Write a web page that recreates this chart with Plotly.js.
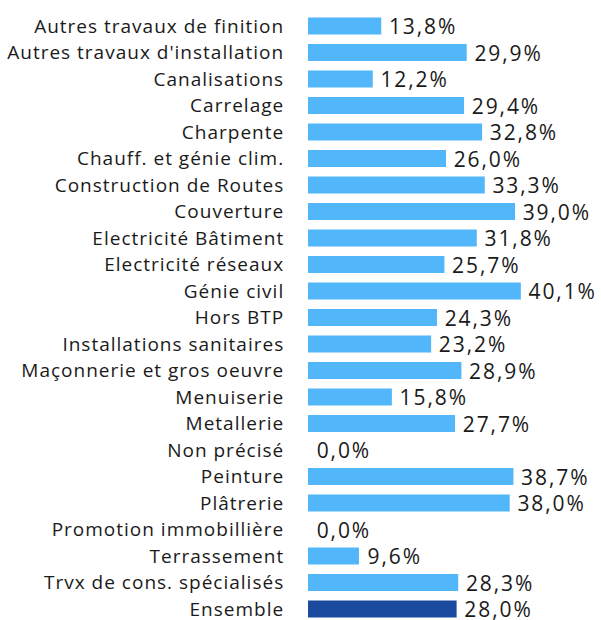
<!DOCTYPE html>
<html><head><meta charset="utf-8">
<script src="https://cdn.plot.ly/plotly-3.0.1.min.js"></script>
<style>
body{margin:0;padding:0;background:#fff}#chart{width:601px;height:620px}
#chart .ytick text{letter-spacing:1px}
#chart text.bartext{letter-spacing:1.9px}
</style>
</head><body><div id="chart"></div>
<script>
const categories = ["Autres travaux de finition","Autres travaux d'installation","Canalisations","Carrelage","Charpente","Chauff. et génie clim.","Construction de Routes","Couverture","Electricité Bâtiment","Electricité réseaux","Génie civil","Hors BTP","Installations sanitaires","Maçonnerie et gros oeuvre","Menuiserie","Metallerie","Non précisé","Peinture","Plâtrerie","Promotion immobillière","Terrassement","Trvx de cons. spécialisés","Ensemble"];
const values = [13.8,29.9,12.2,29.4,32.8,26.0,33.3,39.0,31.8,25.7,40.1,24.3,23.2,28.9,15.8,27.7,0.0,38.7,38.0,0.0,9.6,28.3,28.0];
const highlight = "Ensemble";
const labels = values.map(v => "\u00a0\u200a" + v.toFixed(1).replace('.', ',') + '%');
const colors = categories.map(c => c === highlight ? '#1a4b9e' : '#52b6fa');
const font = "Open Sans, Noto Sans, sans-serif";
Plotly.newPlot('chart', [{
  type: 'bar', orientation: 'h',
  x: values, y: categories,
  text: labels, textposition: 'outside', cliponaxis: false, constraintext: 'none',
  textfont: {family: font, size: 21, color: '#1a1a1a'},
  marker: {color: colors},
  width: 0.64,
  hoverinfo: 'none'
}], {
  width: 601, height: 620,
  margin: {l: 308, r: 0, t: 0, b: 0},
  paper_bgcolor: '#fff', plot_bgcolor: '#fff',
  showlegend: false,
  font: {family: font, size: 19, color: '#1a1a1a'},
  xaxis: {range: [0, 55.2], visible: false, fixedrange: true},
  yaxis: {type: 'category', categoryorder: 'array', categoryarray: categories,
    range: [22.415, -0.981], showgrid: false, zeroline: false, showline: false,
    ticks: 'outside', ticklen: 19, tickcolor: 'rgba(0,0,0,0)',
    tickfont: {family: font, size: 19, color: '#1a1a1a'}}
}, {displayModeBar: false, staticPlot: true});
</script></body></html>
